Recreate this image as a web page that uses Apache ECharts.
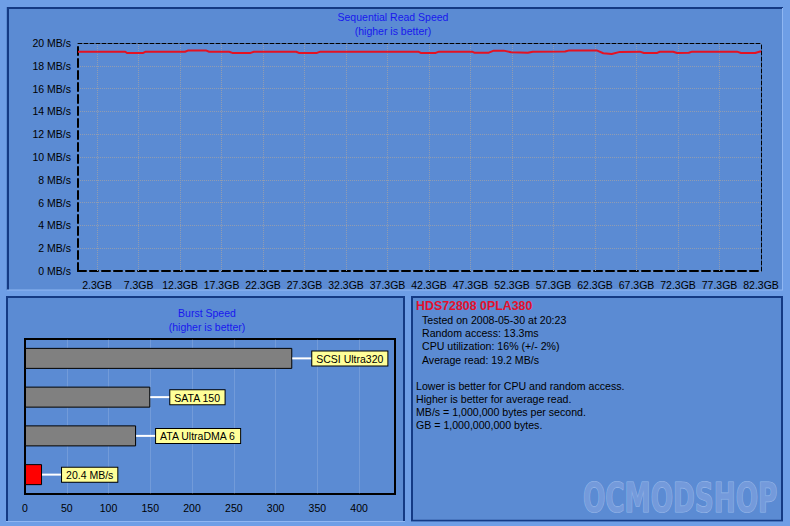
<!DOCTYPE html>
<html><head><meta charset="utf-8">
<script src="https://cdn.jsdelivr.net/npm/echarts@6/dist/echarts.min.js"></script>
<style>html,body{margin:0;padding:0;background:#5b8bd3;}#c{width:790px;height:526px;}</style>
</head><body><div id="c"></div>
<script>
// ---- data ----
const readGB  = [0, 5.7, 5.9, 7.8, 8.1, 12.9, 13.3, 15.4, 15.8, 18.2, 18.6, 20.8, 21.2, 26.3, 26.6, 28.8, 29.2, 41.0, 41.3, 43.1, 43.5, 47.5, 47.8, 49.5, 50.1, 51.3, 52.2, 54.2, 54.8, 58.7, 59.2, 62.5, 63.3, 64.3, 65.3, 67.7, 68.2, 69.8, 70.1, 71.7, 72.2, 73.6, 74.0, 79.4, 79.9, 81.6, 82.3];
const readMBs = [19.23, 19.23, 19.12, 19.12, 19.23, 19.23, 19.35, 19.35, 19.23, 19.23, 19.13, 19.13, 19.23, 19.23, 19.13, 19.13, 19.24, 19.24, 19.13, 19.13, 19.24, 19.24, 19.14, 19.15, 19.33, 19.33, 19.18, 19.14, 19.24, 19.25, 19.35, 19.35, 19.10, 19.04, 19.22, 19.24, 19.13, 19.13, 19.23, 19.23, 19.13, 19.14, 19.24, 19.24, 19.13, 19.13, 19.28];
const xTickValues = [2.3, 7.3, 12.3, 17.3, 22.3, 27.3, 32.3, 37.3, 42.3, 47.3, 52.3, 57.3, 62.3, 67.3, 72.3, 77.3, 82.3];
const xMaxGB = 82.3;
const yMax = 20, yStep = 2;

const burstCategories = ['SCSI Ultra320', 'SATA 150', 'ATA UltraDMA 6', 'HDS728080PLA380'];
const burstValues = [320, 150, 133, 20.4];
const burstTickValues = [0, 50, 100, 150, 200, 250, 300, 350, 400];
const burstMax = 443;

const infoHeader = 'HDS72808 0PLA380';
const infoLines = ['Tested on 2008-05-30 at 20:23', 'Random access: 13.3ms', 'CPU utilization: 16% (+/- 2%)', 'Average read: 19.2 MB/s'];
const noteLines = ['Lower is better for CPU and random access.', 'Higher is better for average read.', 'MB/s = 1,000,000 bytes per second.', 'GB = 1,000,000,000 bytes.'];

// ---- style ----
const FONT = '"Liberation Sans", Arial, sans-serif';
const IN = '#5b8bd3', OUT = '#6e9ee6', DARK = '#143a84', LIGHT = '#8fb6f2';
const TITLE = '#1818ee';
const GRIDC = '#909cb2';

const lineData = readGB.map((g, i) => [g, readMBs[i]]);

function rect(x, y, w, h, fill) { return {type: 'rect', shape: {x, y, width: w, height: h}, style: {fill}, silent: true}; }
function line(x1, y1, x2, y2, c, w) { return {type: 'line', shape: {x1, y1, x2, y2}, style: {stroke: c, lineWidth: w}, silent: true}; }
function txt(t, x, y, font, fill, align) { return {type: 'text', z: 50, style: {text: t, x, y, font, fill, textAlign: align || 'left', textVerticalAlign: 'middle'}, silent: true}; }

const graphics = [
  rect(0, 0, 790, 7, OUT), rect(0, 0, 6, 526, OUT), rect(783, 0, 7, 526, OUT), rect(0, 522, 790, 4, OUT),
  rect(0, 290, 790, 6, OUT), rect(405, 290, 6, 236, OUT),
  line(7, 8, 783, 8, DARK, 2), line(8, 7, 8, 290, DARK, 2), line(7, 290, 783, 290, LIGHT, 1), line(782.5, 8, 782.5, 290, LIGHT, 1),
  line(6, 297, 405, 297, DARK, 2), line(7, 296, 7, 521, DARK, 2), line(404, 296, 404, 521, DARK, 2), line(6, 521.5, 405, 521.5, LIGHT, 1),
  line(411, 297, 783, 297, DARK, 2), line(412, 296, 412, 521, DARK, 2), line(782, 296, 782, 521, DARK, 2), line(411, 520.5, 783, 520.5, DARK, 1.5),
  txt('Sequential Read Speed', 393, 17, '10.5px ' + FONT, TITLE, 'center'),
  txt('(higher is better)', 393, 31, '10.5px ' + FONT, TITLE, 'center'),
  txt('Burst Speed', 207, 313, '10.5px ' + FONT, TITLE, 'center'),
  txt('(higher is better)', 207, 327, '10.5px ' + FONT, TITLE, 'center'),
  txt(infoHeader, 416, 306, 'bold 12.4px ' + FONT, '#e4102c'),
  {type: 'text', z: 40, x: 583, y: 498, scaleX: 0.73, silent: true,
   style: {text: 'OCMODSHOP', x: 0, y: 0, font: 'bold 40px "DejaVu Sans Condensed", "DejaVu Sans", sans-serif',
           fill: 'rgba(118,156,220,0.95)', stroke: 'rgba(158,188,236,0.9)', lineWidth: 1.2, textVerticalAlign: 'middle'}}
];
infoLines.forEach((t, i) => graphics.push(txt(t, 422, 320 + i * 13.2, '10.6px ' + FONT, '#000')));
noteLines.forEach((t, i) => graphics.push(txt(t, 416, 386 + i * 13.1, '10.6px ' + FONT, '#000')));

const chart = echarts.init(document.getElementById('c'), null, {renderer: 'svg', width: 790, height: 526});
chart.setOption({
  animation: false,
  backgroundColor: IN,
  graphic: {elements: graphics},
  grid: [
    {left: 78, top: 43, width: 683, height: 228},
    {left: 25, top: 339, width: 370, height: 155, show: true, borderColor: '#000', borderWidth: 2, backgroundColor: 'transparent'}
  ],
  xAxis: [
    {gridIndex: 0, type: 'value', min: 0, max: xMaxGB,
     axisLine: {onZero: false, lineStyle: {color: '#000', width: 2, type: 'dashed'}},
     axisTick: {show: false, customValues: xTickValues},
     axisLabel: {color: '#000', fontSize: 10.5, fontFamily: FONT, margin: 8, customValues: xTickValues,
                 formatter: v => v.toFixed(1) + 'GB'},
     splitLine: {show: false}},
    {gridIndex: 0, type: 'value', position: 'top', min: 0, max: xMaxGB,
     axisLine: {onZero: false, lineStyle: {color: '#000', width: 1, type: 'dashed'}},
     axisTick: {show: false}, axisLabel: {show: false}, splitLine: {show: false}},
    {gridIndex: 1, type: 'value', min: 0, max: burstMax,
     axisLine: {show: false},
     axisTick: {show: false, customValues: burstTickValues},
     axisLabel: {color: '#000', fontSize: 10.5, fontFamily: FONT, margin: 8, customValues: burstTickValues},
     splitLine: {show: false}}
  ],
  yAxis: [
    {gridIndex: 0, type: 'value', min: 0, max: yMax, interval: yStep,
     axisLine: {show: true, onZero: false, lineStyle: {color: '#000', width: 2, type: 'dashed'}},
     axisTick: {show: false},
     axisLabel: {color: '#000', fontSize: 10.5, fontFamily: FONT, margin: 7, formatter: v => v + ' MB/s'},
     splitLine: {lineStyle: {color: GRIDC, type: 'dotted', width: 1}}},
    {gridIndex: 0, type: 'value', position: 'right', min: 0, max: yMax,
     axisLine: {show: true, onZero: false, lineStyle: {color: '#000', width: 1, type: 'dashed'}},
     axisTick: {show: false}, axisLabel: {show: false}, splitLine: {show: false}},
    {gridIndex: 1, type: 'category', inverse: true, data: burstCategories,
     axisLine: {show: false}, axisTick: {show: false}, axisLabel: {show: false}, splitLine: {show: false}}
  ],
  series: [
    // vertical grid lines at the GB tick positions
    {type: 'line', xAxisIndex: 0, yAxisIndex: 0, data: [], z: 1, silent: true,
     markLine: {silent: true, symbol: 'none', label: {show: false}, animation: false,
                lineStyle: {color: GRIDC, type: 'dotted', width: 1},
                data: xTickValues.slice(0, -1).map(v => ({xAxis: v}))}},
    // faint vertical grid lines in the burst panel
    {type: 'line', xAxisIndex: 2, yAxisIndex: 2, data: [], z: 1, silent: true,
     markLine: {silent: true, symbol: 'none', label: {show: false}, animation: false,
                lineStyle: {color: 'rgba(255,255,255,0.14)', type: 'solid', width: 1},
                data: burstTickValues.slice(1).map(v => ({xAxis: v}))}},
    {type: 'line', xAxisIndex: 0, yAxisIndex: 0, data: lineData, showSymbol: false, symbol: 'none',
     lineStyle: {color: '#e41222', width: 2}, z: 5},
    {type: 'bar', xAxisIndex: 2, yAxisIndex: 2, barWidth: 21, z: 5,
     data: burstValues.map((v, i) => ({value: v, itemStyle: {color: i === burstValues.length - 1 ? '#ff0000' : '#808080', borderColor: '#000', borderWidth: 1}})),
     label: {show: true, position: 'right', distance: 0,
       formatter: p => '{l| }{b|' + (p.dataIndex === burstValues.length - 1 ? p.value + ' MB/s' : p.name) + '}',
       rich: {
         l: {width: 20, height: 2, backgroundColor: '#ffffff', fontSize: 2},
         b: {backgroundColor: '#ffff99', borderColor: '#000', borderWidth: 1, padding: [2, 4, 1, 4],
             color: '#000', fontSize: 10.5, fontFamily: FONT, lineHeight: 12}
       }}}
  ]
});
</script>
</body></html>
